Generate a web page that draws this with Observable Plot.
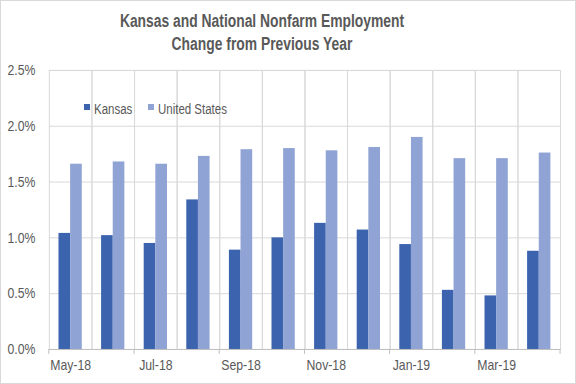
<!DOCTYPE html>
<html>
<head>
<meta charset="utf-8">
<script src="https://cdn.jsdelivr.net/npm/d3@7"></script>
<script src="https://cdn.jsdelivr.net/npm/@observablehq/plot@0.6"></script>
<style>
  html, body { margin: 0; padding: 0; background: white; }
  #chart {
    position: relative; width: 576px; height: 384px; box-sizing: border-box;
    border: 1px solid #d9d9d9; overflow: hidden; background: white;
    font-family: "Liberation Sans", Arial, sans-serif;
    color: #595959;
  }
  #title {
    position: absolute; left: 0; top: 9px; width: 522px; text-align: center;
    font-weight: bold; font-size: 18px; line-height: 23px; color: #595959;
    transform: scaleX(0.77); transform-origin: 261px 0;
  }
  #plot { position: absolute; left: -1px; top: 55px; }
  .lg-sw { position: absolute; width: 6px; height: 6px; top: 103px; }
  .lg-tx {
    position: absolute; top: 101px; font-size: 14px; line-height: 14px; color: #595959;
    transform: scaleX(0.82); transform-origin: 0 0; white-space: nowrap;
  }
</style>
</head>
<body>
<div id="chart">
  <div id="title">Kansas and National Nonfarm Employment<br>Change from Previous Year</div>
  <div id="plot"></div>
  <div id="legend"></div>
</div>
<script>
const months = ["May-18","Jun-18","Jul-18","Aug-18","Sep-18","Oct-18","Nov-18","Dec-18","Jan-19","Feb-19","Mar-19","Apr-19"];
const series = ["Kansas", "United States"];
const kansas = [1.04, 1.02, 0.95, 1.34, 0.89, 1.00, 1.13, 1.07, 0.94, 0.53, 0.48, 0.88];
const unitedStates = [1.66, 1.68, 1.66, 1.73, 1.79, 1.80, 1.78, 1.81, 1.90, 1.71, 1.71, 1.76];
const yTicks = [0, 0.5, 1.0, 1.5, 2.0, 2.5];
const labeledMonths = ["May-18","Jul-18","Sep-18","Nov-18","Jan-19","Mar-19"];
const colors = ["#3b63ae", "#8fa3d4"];

const data = [];
months.forEach((m, i) => {
  data.push({month: m, series: series[0], value: kansas[i]});
  data.push({month: m, series: series[1], value: unitedStates[i]});
});

const plot = Plot.plot({
  width: 577,
  height: 329,
  marginTop: 14,
  marginBottom: 35,
  marginLeft: 49,
  marginRight: 15,
  style: {
    fontFamily: '"Liberation Sans", Arial, sans-serif',
    fontSize: "15px",
    color: "#595959",
    background: "white",
    overflow: "visible"
  },
  fx: {
    domain: months, padding: 0, round: false, label: null, axis: "bottom",
    tickSize: 0, tickPadding: 10,
    tickFormat: d => labeledMonths.includes(d) ? d : ""
  },
  x: {domain: series, paddingInner: 0, paddingOuter: 0.83, round: false, axis: null},
  y: {
    domain: [0, 2.5], label: null, axis: "left", ticks: yTicks,
    tickSize: 0, tickPadding: 14, tickFormat: d => d.toFixed(1) + "%"
  },
  color: {domain: series, range: colors},
  marks: [
    Plot.frame({stroke: "#d9d9d9"}),
    Plot.gridY(yTicks, {stroke: "#d9d9d9", strokeOpacity: 1}),
    Plot.barY(data, {fx: "month", x: "series", y: "value", fill: "series"}),
    Plot.ruleY([0], {stroke: "#bfbfbf"})
  ]
});
document.getElementById("plot").appendChild(plot);

// narrow the text horizontally (Arial Narrow look) around each label's anchor
d3.select(plot).selectAll("text").each(function() {
  const t = this.getAttribute("transform") || "";
  this.setAttribute("transform", t + " scale(0.82,1)");
  this.setAttribute("font-size", "15");
});

// tick marks below the axis at every other month boundary, from the fx scale
const fx = plot.scale("fx");
const y = plot.scale("y");
const y0 = y.apply(0);
const bounds = [];
months.forEach((m, i) => { if (i % 2 === 0) bounds.push(fx.apply(m)); });
bounds.push(fx.apply(months[months.length - 1]) + fx.bandwidth);
d3.select(plot).append("g")
  .selectAll("line").data(bounds).join("line")
  .attr("x1", d => d).attr("x2", d => d)
  .attr("y1", y0).attr("y2", y0 + 5)
  .attr("stroke", "#bfbfbf");

// legend inside the plot area, top left
const legend = d3.select("#legend");
const lgPos = [[83, 93], [147, 157]];
series.forEach((s, i) => {
  legend.append("div").attr("class", "lg-sw").style("left", lgPos[i][0] + "px").style("background", colors[i]);
  legend.append("div").attr("class", "lg-tx").style("left", lgPos[i][1] + "px").text(s);
});
</script>
</body>
</html>
